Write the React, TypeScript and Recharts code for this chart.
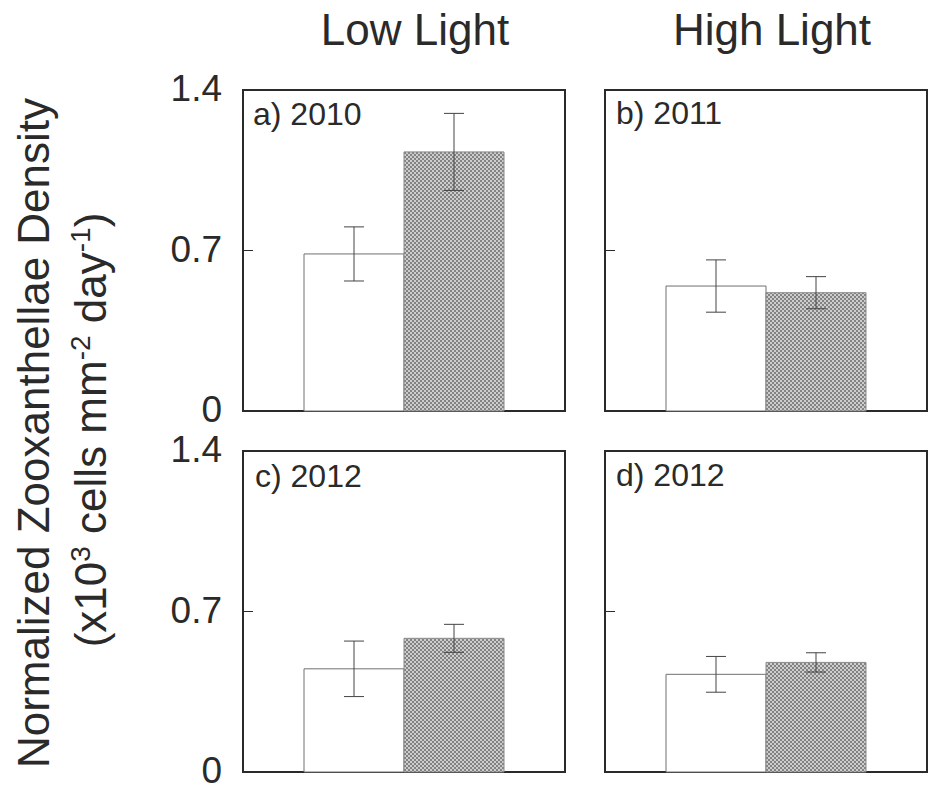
import React from "react"
import { BarChart, Bar, XAxis, YAxis, ErrorBar, ReferenceArea } from "recharts"

// values (x10^3 cells mm-2 day-1)
const panelLabels = ["a) 2010", "b) 2011", "c) 2012", "d) 2012"]
const openMeans = [0.685, 0.545, 0.45, 0.426]
const openErrors = [0.118, 0.114, 0.121, 0.078]
const shadedMeans = [1.13, 0.516, 0.583, 0.478]
const shadedErrors = [0.168, 0.07, 0.061, 0.042]
const yTicks = [0, 0.7, 1.4]
const columnTitles = ["Low Light", "High Light"]

const FONT = "'Liberation Sans', Arial, Helvetica, sans-serif"
const INK = "#2a2a2a"
const PLOT_W = 322
const PLOT_H = 321
const TICK_GAP = 21
const colLeft = [243, 605]
const rowTop = [90, 451]
const titleX = [415, 772]
const labelPos = [
  [253, 125],
  [616, 124],
  [255, 487],
  [616, 486],
]

// tick mark pointing into the panel, label (optional) outside
function InwardTick(props: any) {
  const { x, y, payload, showLabel } = props
  const axisX = x + TICK_GAP
  return (
    <g>
      <line x1={axisX} x2={axisX + 10} y1={y} y2={y} stroke={INK} strokeWidth={1} />
      {showLabel && (
        <text
          x={x}
          y={y}
          dy="0.3em"
          textAnchor="end"
          fontSize={37}
          fill={INK}
          fontFamily={FONT}
        >
          {String(payload.value)}
        </text>
      )}
    </g>
  )
}

function Panel({ index }: { index: number }) {
  const col = index % 2
  const row = Math.floor(index / 2)
  const showLabels = col === 0
  const axisW = showLabels ? 93 : 25
  const mTop = 24
  const mBottom = row === 0 ? 30 : 19
  const mRight = col === 0 ? 5 : 1

  const data = [
    {
      name: panelLabels[index],
      open: openMeans[index],
      openErr: openErrors[index],
      shaded: shadedMeans[index],
      shadedErr: shadedErrors[index],
    },
  ]

  return (
    <div
      style={{
        position: "absolute",
        left: colLeft[col] - axisW,
        top: rowTop[row] - mTop,
      }}
    >
      <BarChart
        width={axisW + PLOT_W + mRight}
        height={mTop + PLOT_H + mBottom}
        data={data}
        margin={{ top: mTop, right: mRight, bottom: mBottom, left: 0 }}
        barCategoryGap={61}
        barGap={0}
      >
        <XAxis dataKey="name" hide />
        <YAxis
          type="number"
          domain={[0, 1.4]}
          ticks={yTicks}
          interval={0}
          width={axisW}
          tickSize={0}
          tickMargin={TICK_GAP}
          tick={(p: any) => <InwardTick {...p} showLabel={showLabels} />}
          tickLine={false}
          axisLine={false}
        />
        <Bar dataKey="open" fill="#ffffff" stroke="#707070" strokeWidth={1} isAnimationActive={false}>
          <ErrorBar dataKey="openErr" width={10} stroke="#444" strokeWidth={1} direction="y" />
        </Bar>
        <Bar dataKey="shaded" fill="url(#stipple)" stroke="#8a8a8a" strokeWidth={1} isAnimationActive={false}>
          <ErrorBar dataKey="shadedErr" width={10} stroke="#444" strokeWidth={1} direction="y" />
        </Bar>
        <ReferenceArea
          y1={0}
          y2={1.4}
          fill="none"
          fillOpacity={0}
          stroke={INK}
          strokeWidth={2}
          strokeOpacity={1}
          ifOverflow="visible"
        />
      </BarChart>
    </div>
  )
}

export default function App() {
  return (
    <div
      style={{
        position: "absolute",
        left: 0,
        top: 0,
        width: 928,
        height: 791,
        background: "#fff",
        overflow: "hidden",
      }}
    >
      <svg width={0} height={0} style={{ position: "absolute" }}>
        <defs>
          <pattern id="stipple" width={4} height={4} patternUnits="userSpaceOnUse">
            <rect width={4} height={4} fill="#cdcdcd" />
            <rect width={2} height={2} fill="#838383" />
            <rect x={2} y={2} width={2} height={2} fill="#838383" />
          </pattern>
        </defs>
      </svg>

      {panelLabels.map((_, i) => (
        <Panel key={i} index={i} />
      ))}

      <svg
        width={928}
        height={791}
        style={{ position: "absolute", left: 0, top: 0, pointerEvents: "none" }}
        fontFamily={FONT}
        fill={INK}
      >
        {columnTitles.map((t, i) => (
          <text key={t} x={titleX[i]} y={45} fontSize={44} textAnchor="middle">
            {t}
          </text>
        ))}
        {panelLabels.map((t, i) => (
          <text key={t + i} x={labelPos[i][0]} y={labelPos[i][1]} fontSize={32}>
            {t}
          </text>
        ))}
        <text transform="translate(49,433) rotate(-90)" fontSize={44} textAnchor="middle">
          Normalized Zooxanthellae Density
        </text>
        <text transform="translate(106,430) rotate(-90)" fontSize={44} textAnchor="middle">
          (x10
          <tspan dy={-16} fontSize={28}>3</tspan>
          <tspan dy={16}> cells mm</tspan>
          <tspan dy={-16} fontSize={28}>-2</tspan>
          <tspan dy={16}> day</tspan>
          <tspan dy={-16} fontSize={28}>-1</tspan>
          <tspan dy={16}>)</tspan>
        </text>
      </svg>
    </div>
  )
}
